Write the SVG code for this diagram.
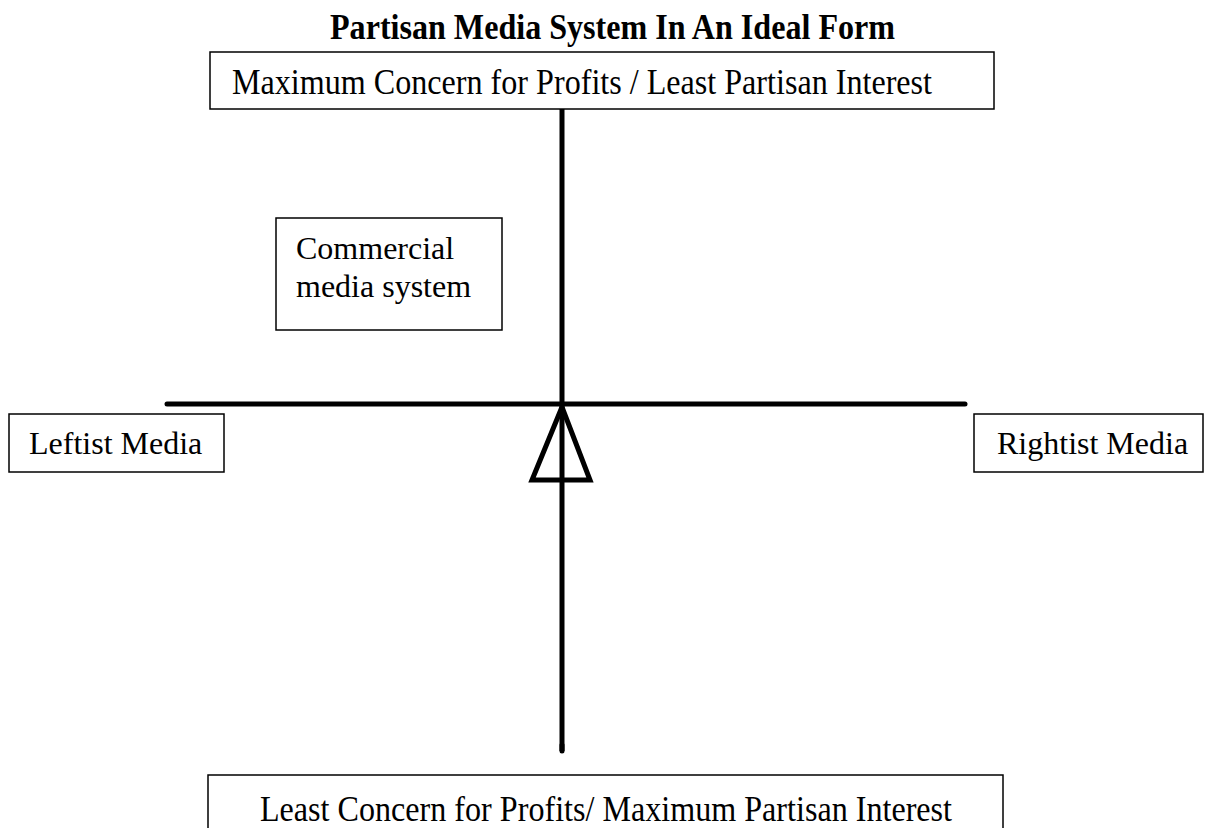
<svg xmlns="http://www.w3.org/2000/svg" width="1206" height="828" viewBox="0 0 1206 828">
  <style>
    .box { fill: #ffffff; stroke: #000000; stroke-width: 1.5; }
    .label { font-family: "Liberation Serif", "Times New Roman", serif; font-size: 32px; fill: #000000; }
    .narrow { font-family: "Liberation Serif", "Times New Roman", serif; font-size: 36px; fill: #000000; }
    .title { font-family: "Liberation Serif", "Times New Roman", serif; font-size: 35px; font-weight: bold; fill: #000000; }
    .axis { fill: none; stroke: #000000; stroke-width: 5; stroke-linecap: round; stroke-linejoin: miter; }
  </style>
  <rect width="1206" height="828" fill="#ffffff"/>

  <text class="title" x="330" y="39" textLength="565" lengthAdjust="spacingAndGlyphs">Partisan Media System In An Ideal Form</text>

  <!-- axes and the pointer at the centre -->
  <g id="connectors">
    <line class="axis" x1="562" y1="109" x2="562" y2="751" style="stroke-linecap: butt"/>
    <line class="axis" x1="562" y1="745" x2="562" y2="751"/>
    <line class="axis" x1="167" y1="404" x2="965" y2="404"/>
    <polygon class="axis" points="562,407 532,480 590,480"/>
  </g>

  <g id="top">
    <rect class="box" x="210" y="52" width="784" height="57"/>
    <text class="narrow" x="232" y="94" textLength="700" lengthAdjust="spacingAndGlyphs">Maximum Concern for Profits / Least Partisan Interest</text>
  </g>

  <g id="commercial">
    <rect class="box" x="276" y="218" width="226" height="112"/>
    <text class="label" x="296" y="259">Commercial</text>
    <text class="label" x="296" y="297">media system</text>
  </g>

  <g id="left">
    <rect class="box" x="9" y="414" width="215" height="58"/>
    <text class="label" x="29" y="454">Leftist Media</text>
  </g>

  <g id="right">
    <rect class="box" x="974" y="414" width="229" height="58"/>
    <text class="label" x="997" y="454">Rightist Media</text>
  </g>

  <g id="bottom">
    <rect class="box" x="208" y="775" width="795" height="70"/>
    <text class="narrow" x="260" y="821" textLength="692" lengthAdjust="spacingAndGlyphs">Least Concern for Profits/ Maximum Partisan Interest</text>
  </g>
</svg>
